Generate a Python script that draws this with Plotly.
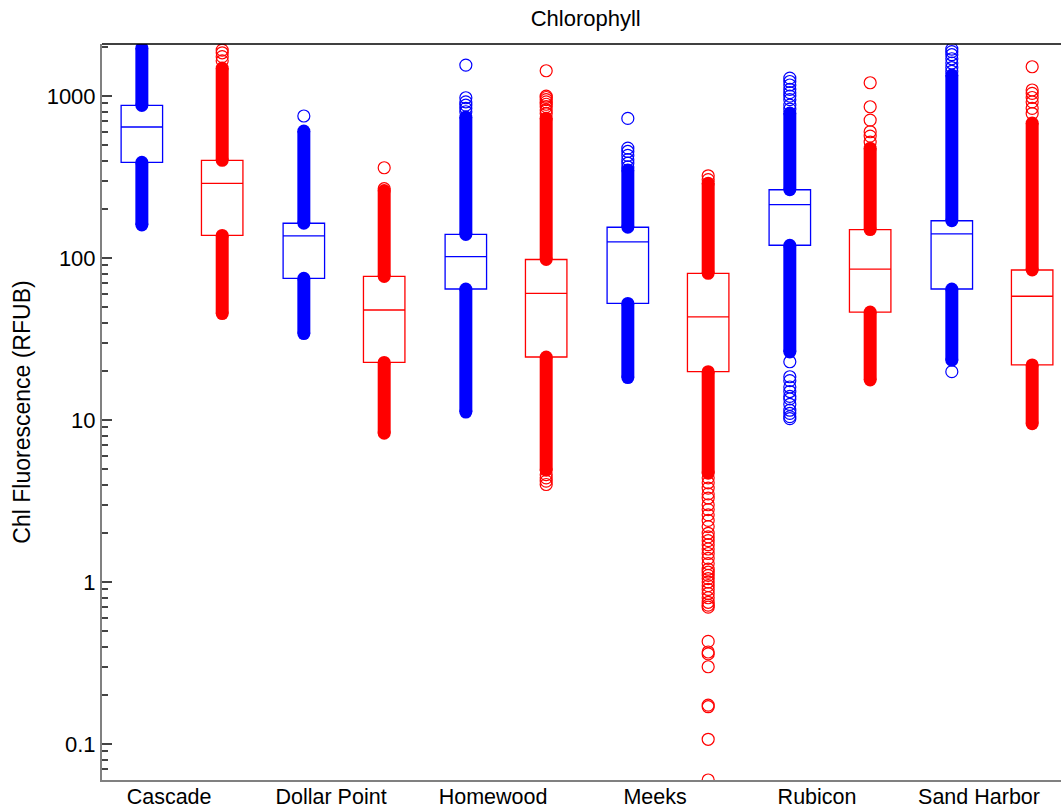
import plotly.graph_objects as go

# ---------------- data ----------------
sites = ["Cascade", "Dollar Point", "Homewood", "Meeks", "Rubicon", "Sand Harbor"]

# blue series: quartiles
blue_q1 = [390, 75, 64.4, 52.5, 120, 64.4]
blue_median = [644, 137, 102, 126, 214, 141]
blue_q3 = [876, 164, 140, 155, 264, 170]
# extent of the densely packed outlier columns
blue_dense_top = [1980, 608, 742, 349, 785, 1348]
blue_dense_bottom = [160, 34.2, 11.2, 18.3, 26.3, 23.4]
# individually visible outliers
blue_out_high = [
    [],
    [753],
    [1553, 976, 920, 880, 840, 800],
    [728, 477, 455, 430, 405, 385, 365],
    [1290, 1230, 1170, 1100, 1050, 1000, 950, 880, 830],
    [1950, 1880, 1800, 1700, 1600, 1500, 1420],
]
blue_out_low = [
    [],
    [],
    [],
    [],
    [22.9, 18.5, 17.5, 16, 15, 14, 13.5, 12.5, 11.5, 11, 10.5, 10.2],
    [19.9],
]

# red series: quartiles
red_q1 = [138, 22.7, 24.5, 19.9, 46.4, 21.9]
red_median = [289, 47.8, 60.5, 43.3, 85.5, 58.1]
red_q3 = [401, 77, 98, 80.5, 150, 84.4]
red_dense_top = [1489, 261, 730, 290, 477, 681]
red_dense_bottom = [45.4, 8.3, 4.9, 4.7, 17.7, 9.5]
red_out_high = [
    [1922, 1850, 1750, 1650],
    [361, 268],
    [1433, 1000, 980, 950, 920, 890, 860, 820, 780],
    [322, 305],
    [1208, 859, 711, 602, 566, 520],
    [1517, 1090, 1040, 980, 920, 840, 780],
]
red_out_low = [
    [],
    [],
    [4.6, 4.4, 4.2, 4.0],
    [4.4, 4.1, 3.8, 3.5, 3.3, 3.0, 2.8, 2.6, 2.4, 2.2, 2.0, 1.9, 1.8, 1.7,
     1.6, 1.5, 1.4, 1.3, 1.2, 1.15, 1.1, 1.05, 1.0, 0.95, 0.9, 0.85, 0.8,
     0.75, 0.72, 0.70, 0.43, 0.37, 0.36, 0.30, 0.174, 0.170, 0.107, 0.060],
    [],
    [],
]

y_ticks = [0.1, 1, 10, 100, 1000]
y_tick_text = ["0.1", "1", "10", "100", "1000"]

# ---------------- styling ----------------
FONT = "Liberation Sans, Arial, sans-serif"
BLUE = "#0000FF"
RED = "#FF0000"
OFFSET = 0.248
BOXW = 0.256

fig = go.Figure()

series = [
    (BLUE, -OFFSET, blue_q1, blue_median, blue_q3, blue_dense_top, blue_dense_bottom, blue_out_high, blue_out_low),
    (RED, OFFSET, red_q1, red_median, red_q3, red_dense_top, red_dense_bottom, red_out_high, red_out_low),
]

# boxes
for color, off, q1, med, q3, dtop, dbot, ohigh, olow in series:
    pos = [i + off for i in range(len(sites))]
    fig.add_trace(go.Box(
        x=pos, q1=q1, median=med, q3=q3, lowerfence=q1, upperfence=q3,
        width=BOXW, whiskerwidth=0, boxpoints=False,
        line=dict(color=color, width=1.3), fillcolor="rgba(0,0,0,0)",
        showlegend=False, hoverinfo="skip",
    ))

# dense outlier columns (thousands of overlapping circles)
for color, off, q1, med, q3, dtop, dbot, ohigh, olow in series:
    xs, ys = [], []
    for i in range(len(sites)):
        p = i + off
        xs += [p, p, None, p, p, None]
        ys += [q3[i], dtop[i], None, dbot[i], q1[i], None]
    fig.add_trace(go.Scatter(
        x=xs, y=ys, mode="lines+markers",
        line=dict(color=color, width=13),
        marker=dict(symbol="circle", size=13, color=color, line=dict(width=0)),
        showlegend=False, hoverinfo="skip",
    ))

# individually visible outliers
for color, off, q1, med, q3, dtop, dbot, ohigh, olow in series:
    xs, ys = [], []
    for i in range(len(sites)):
        vals = ohigh[i] + olow[i]
        xs += [i + off] * len(vals)
        ys += vals
    fig.add_trace(go.Scatter(
        x=xs, y=ys, mode="markers",
        marker=dict(symbol="circle-open", size=12, color=color, line=dict(width=1.2)),
        showlegend=False, hoverinfo="skip",
    ))

fig.update_layout(
    width=1061, height=809,
    margin=dict(l=102, r=0, t=44, b=29, autoexpand=False),
    paper_bgcolor="white", plot_bgcolor="white",
    font=dict(family=FONT, size=22, color="black"),
    title=dict(text="Chlorophyll", x=0.552, xanchor="center",
               y=1 - 18 / 809, yanchor="middle", yref="container",
               font=dict(size=22, family=FONT, color="black")),
    xaxis=dict(
        range=[-0.494, 5.426], automargin=False,
        tickvals=[i - 0.08 for i in range(len(sites))], ticktext=sites,
        ticks="", showgrid=False, zeroline=False,
        showline=True, linecolor="#808080", linewidth=2,
        tickfont=dict(size=21.5, family=FONT, color="black"),
        ticklabelstandoff=-4,
    ),
    yaxis=dict(
        type="log", range=[-1.222, 3.3214], automargin=False,
        tickvals=y_ticks, ticktext=y_tick_text,
        ticks="inside", ticklen=10, tickwidth=1.5, tickcolor="#444444",
        minor=dict(ticks="inside", ticklen=6, tickwidth=1.5, tickcolor="#444444",
                   dtick="D1", showgrid=False),
        showgrid=False, zeroline=False,
        showline=True, linecolor="#808080", linewidth=2,
        tickfont=dict(size=22, family=FONT, color="black"),
        title=dict(text="Chl Fluorescence (RFUB)", font=dict(size=23, family=FONT, color="black"),
                   standoff=10),
    ),
    shapes=[dict(type="line", xref="paper", yref="paper", x0=0, x1=1, y0=1, y1=1,
                 line=dict(color="black", width=1.5), layer="above")],
)

fig.write_html(
    "out.html",
    config={"displayModeBar": False},
    post_script="document.body.style.margin='0';document.body.style.overflow='hidden';",
)
